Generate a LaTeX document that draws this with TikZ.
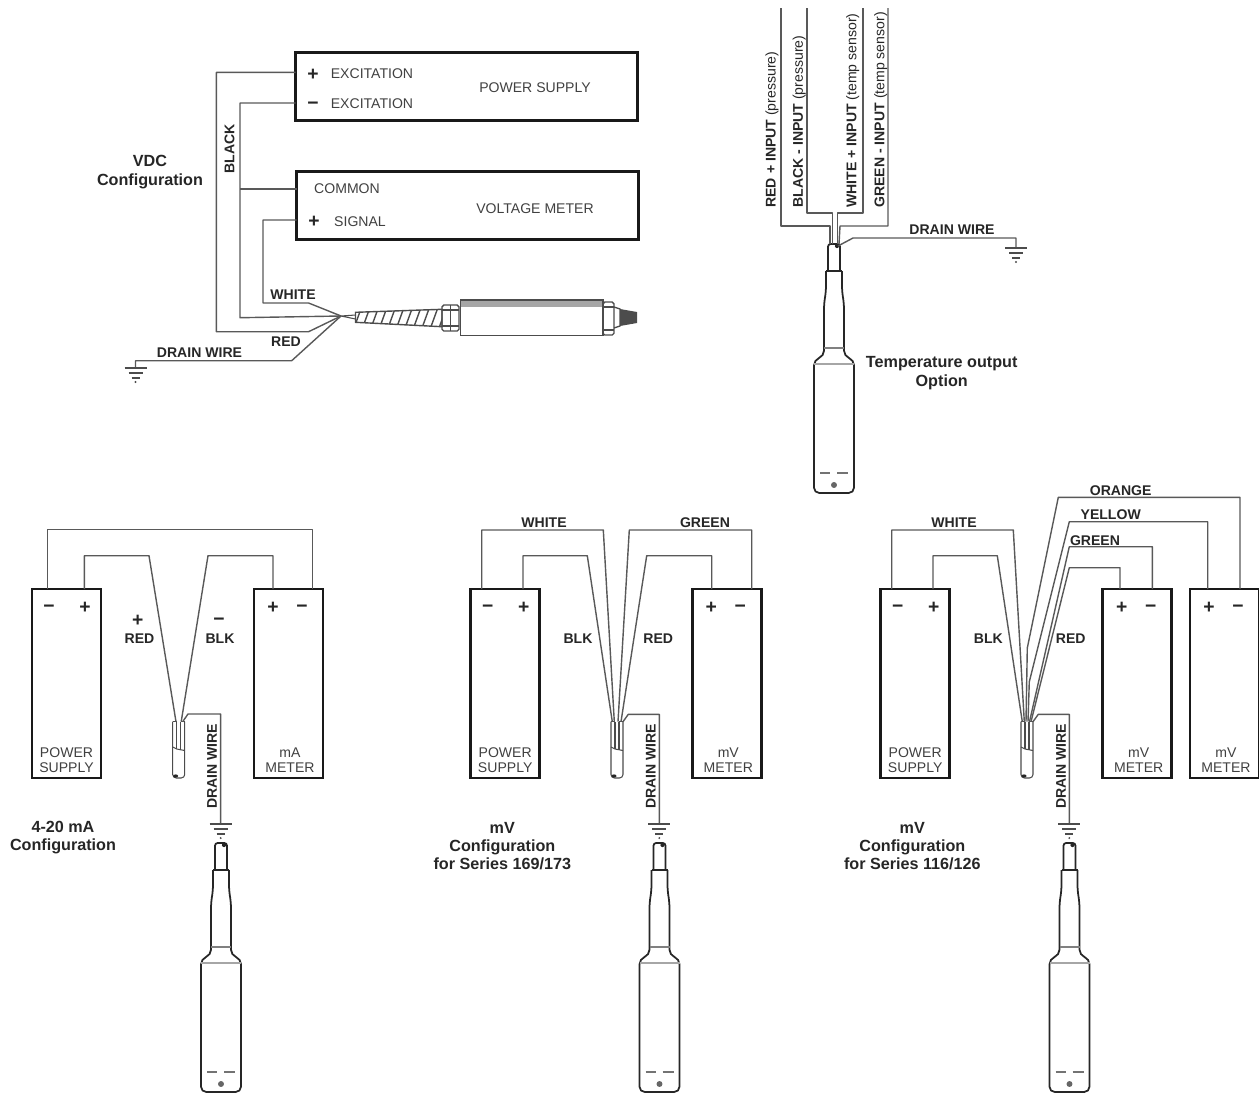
\documentclass[tikz,border=0pt]{standalone}
\usepackage{fontspec}
\setmainfont{Liberation Sans}

\tikzset{
  wire/.style={draw=black!65, line width=0.8pt, line join=round},
  unitbox/.style={draw=black!90, line width=1.6pt, minimum width=1.38cm, minimum height=3.78cm, inner sep=0pt, outer sep=0pt},
  widebox/.style={draw=black!90, line width=1.6pt, minimum width=6.84cm, minimum height=1.36cm, inner sep=0pt, outer sep=0pt},
  lbl/.style={font=\fontsize{8}{8.5}\selectfont, text=black!75, inner sep=0pt, align=center, yshift=-0.5pt},
  blbl/.style={font=\bfseries\fontsize{8}{8.5}\selectfont, text=black!85, inner sep=0pt, yshift=-0.5pt},
  title/.style={font=\bfseries\fontsize{9.2}{10.4}\selectfont, text=black!85, inner sep=0pt, align=center},
  sign/.style={font=\bfseries\fontsize{11}{11}\selectfont, text=black!85, inner sep=0pt, yshift=-1.1pt},
  minsign/.style={sign, yshift=-0.7pt},
  probeline/.style={draw=black!85, line width=1pt, line join=round},
  thinline/.style={draw=black!70, line width=0.6pt}
}

\begin{document}
\begin{tikzpicture}[x=0.02cm,y=-0.02cm]
\useasboundingbox (0,0) rectangle (1259,1093);

% name, left edge, offset of the minus wire
\def\psbox#1#2#3{
  \node[unitbox] (#1) at (#2+34.5,683.5) {};
  \coordinate (#1minus) at (#2+#3,589);
  \coordinate (#1plus) at (#2+52.3,589);
  \node[minsign] (#1m) at (#2+17,606) {−};
  \node[sign] (#1p) at (#2+53,606) {+};
  \node[lbl] (#1t) at (#2+34.5,759) {POWER\\SUPPLY};
}
% name, left edge, plus wire, minus wire, first text line
\def\meterbox#1#2#3#4#5{
  \node[unitbox] (#1) at (#2+34.5,683.5) {};
  \coordinate (#1plus) at (#2+#3,589);
  \coordinate (#1minus) at (#2+#4,589);
  \node[sign] (#1p) at (#2+19,606) {+};
  \node[minsign] (#1m) at (#2+48,606) {−};
  \node[lbl] (#1t) at (#2+36,759) {#5\\METER};
}
% name, left edge
\def\stub#1#2{
  \coordinate (#1a) at (#2+1.3,721.7);
  \coordinate (#1b) at (#2+3.3,721.7);
  \coordinate (#1c) at (#2+5,721.7);
  \coordinate (#1d) at (#2+7,721.7);
  \coordinate (#1e) at (#2+8.5,721.7);
  \coordinate (#1f) at (#2+10,721.7);
  \coordinate (#1g) at (#2+12,721.7);
  \draw[thinline] (#2,721.7) -- (#2+4,721.7) (#2+8,721.7) -- (#2+12,721.7);
  \draw[thinline] (#2+4,721.7) -- (#2+4,749) (#2+8,721.7) -- (#2+8,750);
  \draw[thinline, rounded corners=2] (#2,721.7) -- (#2,778) -- (#2+12,778) -- (#2+12,721.7);
  \draw[thinline] (#2,747) -- (#2+4,749) -- (#2+12,750.5);
  \fill[black!85] (#2+3,776) ellipse (2.5 and 1.6);
}
% name, x, y of the top of the symbol
\def\ground#1#2#3{
  \coordinate (#1) at (#2,#3);
  \begin{scope}[shift={(#2,#3)}]
  \draw[thinline, line width=0.9pt] (-11,1) -- (11,1);
  \draw[thinline, line width=0.9pt] (-7,6) -- (7,6);
  \draw[thinline, line width=0.9pt] (-4,11) -- (4,11);
  \fill[black!70] (0,15) circle (0.6pt);
  \end{scope}
}
% centre x, top y
\def\probe#1#2{
  \begin{scope}[shift={(#1,#2)}]
  \draw[probeline, rounded corners=1.5] (-6,27) -- (-6,0) -- (6,0) -- (6,27);
  \draw[probeline] (-8,27) -- (8,27);
  \draw[probeline, rounded corners=3] (-8,27) -- (-8,47) -- (-10,60) -- (-10,112) -- (-20,116) -- (-20,249) -- (20,249) -- (20,116) -- (10,112) -- (10,60) -- (8,47) -- (8,27);
  \draw[thinline, draw=black!50] (-10,104) -- (10,104);
  \draw[thinline, draw=black!35] (-20,120) -- (20,120);
  \draw[thinline, draw=black!55] (-14,229) -- (-4,229) (3,229) -- (14,229);
  \fill[black!60] (0,241) circle (1.7pt);
  \fill[black!85] (3,2) circle (1.2pt);
  \end{scope}
}

% VDC configuration
\node[widebox] (psupply) at (466.5,86.5) {};
\node[widebox] (vmeter) at (467.5,205.5) {};
\node[sign] (psplus) at (313,73) {+};
\node[minsign] (psminus) at (313,103) {−};
\node[lbl] (exca) at (372,73) {EXCITATION};
\node[lbl] (excb) at (372,103) {EXCITATION};
\node[lbl] (pstext) at (535,87) {POWER SUPPLY};
\node[lbl] (common) at (347,188) {COMMON};
\node[sign] (vmplus) at (314,220) {+};
\node[lbl] (signal) at (360,221) {SIGNAL};
\node[lbl] (vmtext) at (535,208) {VOLTAGE METER};
\node[title] (vdc) at (150,172) {VDC\\Configuration};
\node[blbl, rotate=90] (black) at (229.5,148) {BLACK};
\node[blbl] (white) at (293,294) {WHITE};
\node[blbl] (red) at (286,341) {RED};
\node[blbl] (drainv) at (199.5,352) {DRAIN WIRE};

\coordinate (vdcjoin) at (341,316);
\coordinate (psa) at (psupply.west |- 0,72.3);
\coordinate (psb) at (psupply.west |- 0,103);
\coordinate (vma) at (vmeter.west |- 0,189);
\coordinate (vmb) at (vmeter.west |- 0,220);
\coordinate (kneea) at (216.4,331.7);
\coordinate (kneeb) at (240,317.7);
\coordinate (kneec) at (263,303);
\draw[wire] (psa) -| (kneea) -- (308.6,331.7) -- (vdcjoin);
\draw[wire] (psb) -| (kneeb) -- (vdcjoin);
\draw[wire] (vma) -- (240,189);
\draw[wire] (vmb) -| (kneec) -- (308.6,303) -- (vdcjoin);
\ground{gndv}{135.5}{367}
\draw[wire] (vdcjoin) -- (291.7,360.7) -| (gndv);

% transducer
\draw[thinline] (vdcjoin) -- (355.5,315) (vdcjoin) -- (355.5,319);
\begin{scope}
\clip (355.5,312.3) -- (442,309.3) -- (442,326.7) -- (355.5,322.3) -- cycle;
\foreach \x in {354,362.5,...,446} {
  \draw[thinline, line width=0.8pt] (\x,328) -- (\x+8,306);
}
\end{scope}
\draw[thinline, line width=0.8pt] (355.5,312.3) -- (442,309.3) -- (442,326.7) -- (355.5,322.3) -- cycle;
\draw[thinline, line width=0.8pt, rounded corners=1] (442,305) rectangle (459,331);
\draw[thinline] (450.5,305) -- (450.5,331) (442,310) -- (459,310) (442,326) -- (459,326);
\fill[black!35] (460.7,300) rectangle (603,307);
\draw[thinline, line width=0.8pt] (460.7,300) rectangle (603,335.5);
\draw[thinline, line width=0.8pt, rounded corners=1] (603,302) rectangle (614,335);
\draw[thinline] (603,307) -- (614,307) (603,330) -- (614,330);
\draw[thinline, line width=0.8pt] (614,307) -- (620,309) -- (620,326) -- (614,328);
\fill[black!70] (620,309) -- (637,312) -- (637,323) -- (620,326) -- cycle;

% temperature output option
\probe{834}{244}
\coordinate (tred) at (781,8);
\coordinate (tblack) at (807,8);
\coordinate (twhite) at (863,8);
\coordinate (tgreen) at (888,8);
\draw[wire] (tred) |- (830,226) -- (830,244);
\draw[wire] (tgreen) |- (840,226) -- (839,244);
\draw[wire] (tblack) |- (832.3,213) -- (832.3,244);
\draw[wire] (twhite) |- (837.3,213) -- (837.3,244);
\node[blbl, rotate=90, anchor=west] (tredl) at (772,207) {RED + INPUT \mdseries(pressure)};
\node[blbl, rotate=90, anchor=west] (tblackl) at (799.3,207) {BLACK - INPUT \mdseries(pressure)};
\node[blbl, rotate=90, anchor=west] (twhitel) at (852.7,207) {WHITE + INPUT \mdseries(temp sensor)};
\node[blbl, rotate=90, anchor=west] (tgreenl) at (880.7,207) {GREEN - INPUT \mdseries(temp sensor)};
\ground{gndt}{1016}{247}
\coordinate (tdrain) at (838,246);
\draw[wire] (tdrain) -- (853,238) -| (gndt);
\node[blbl] (tdrainl) at (952,229) {DRAIN WIRE};
\node[title] (ttext) at (941.7,373) {Temperature output\\Option};

% 4-20 mA configuration
\psbox{psA}{32}{15.7}
\meterbox{mA}{254}{19}{58.7}{mA}
\stub{stubA}{172.7}
\probe{221}{843}
\ground{gndA}{220.7}{823}
\coordinate (redA) at (149,555.7);
\coordinate (blkA) at (208,555.7);
\draw[wire] (psAminus) -- ++(0,-59.7) -| (mAminus);
\draw[wire] (psAplus) |- (redA) -- (stubAb);
\draw[wire] (mAplus) |- (blkA) -- (stubAe);
\draw[wire] (stubAf) -- (188,714) -| (gndA);
\node[sign] (plusA) at (137.7,619) {+};
\node[minsign] (minusA) at (219,619) {−};
\node[blbl] (redlA) at (139.5,638) {RED};
\node[blbl] (blklA) at (220,638) {BLK};
\node[blbl, rotate=90] (drainA) at (212,765.5) {DRAIN WIRE};
\node[title] (textA) at (63,837.5) {4-20 mA\\Configuration};

% mV configuration, series 169/173
\psbox{psB}{470.7}{11}
\meterbox{mB}{692.3}{19.4}{59.4}{mV}
\stub{stubB}{611}
\probe{659.5}{843}
\ground{gndB}{659.3}{823}
\coordinate (whiteB) at (603.3,530);
\coordinate (blkB) at (587.3,555.7);
\coordinate (greenB) at (629.3,530);
\coordinate (redB) at (646.7,555.7);
\draw[wire] (psBminus) |- (whiteB) -- (stubBb);
\draw[wire] (psBplus) |- (blkB) -- (stubBa);
\draw[wire] (mBminus) |- (greenB) -- (stubBd);
\draw[wire] (mBplus) |- (redB) -- (stubBf);
\draw[wire] (stubBg) -- (628.3,714.3) -| (gndB);
\node[blbl] (whitelB) at (544,521.7) {WHITE};
\node[blbl] (greenlB) at (705,521.7) {GREEN};
\node[blbl] (blklB) at (578,638) {BLK};
\node[blbl] (redlB) at (658.3,638) {RED};
\node[blbl, rotate=90] (drainB) at (650.7,765.5) {DRAIN WIRE};
\node[title] (textB) at (502.3,846) {mV\\Configuration\\for Series 169/173};

% mV configuration, series 116/126
\psbox{psC}{880.7}{11}
\meterbox{mC}{1102.7}{17.3}{49.6}{mV}
\meterbox{mD}{1190}{17.7}{50}{mV}
\stub{stubC}{1021}
\probe{1069.5}{843}
\ground{gndC}{1069.3}{823}
\coordinate (whiteC) at (1013.3,530);
\coordinate (blkC) at (997.3,555.7);
\coordinate (orangeC) at (1058.3,497.3);
\coordinate (yellowC) at (1069.3,521.7);
\coordinate (greenC) at (1069.3,546.7);
\coordinate (redC) at (1069.3,567.7);
\draw[wire] (psCminus) |- (whiteC) -- (stubCb);
\draw[wire] (psCplus) |- (blkC) -- (stubCa);
\draw[wire] (mDminus) |- (orangeC) -- (1027.3,648) -- (stubCc);
\draw[wire] (mDplus) |- (yellowC) -- (1029.3,681.7) -- (stubCd);
\draw[wire] (mCminus) |- (greenC) -- (stubCe);
\draw[wire] (mCplus) |- (redC) -- (stubCf);
\draw[wire] (stubCg) -- (1038.3,714.3) -| (gndC);
\node[blbl] (whitelC) at (954,521.7) {WHITE};
\node[blbl] (orangelC) at (1120.7,490) {ORANGE};
\node[blbl] (yellowlC) at (1110.7,514) {YELLOW};
\node[blbl] (greenlC) at (1095,540) {GREEN};
\node[blbl] (blklC) at (988.3,638) {BLK};
\node[blbl] (redlC) at (1070.7,638) {RED};
\node[blbl, rotate=90] (drainC) at (1061,765.5) {DRAIN WIRE};
\node[title] (textC) at (912.3,846) {mV\\Configuration\\for Series 116/126};

\end{tikzpicture}
\end{document}
